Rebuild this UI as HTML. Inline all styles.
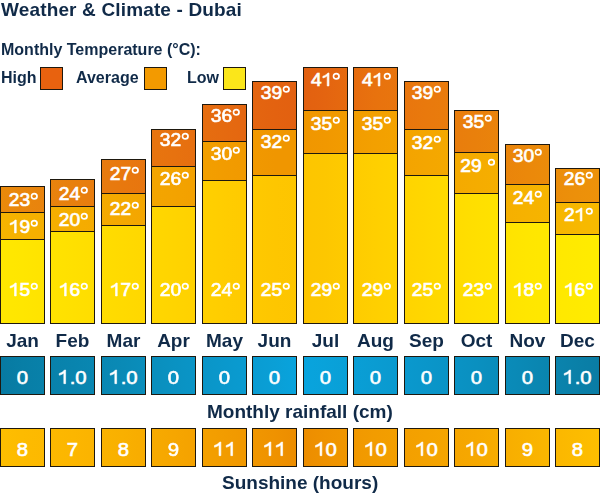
<!DOCTYPE html><html><head><meta charset="utf-8"><style>
*{margin:0;padding:0;box-sizing:border-box}
html,body{width:600px;height:501px;background:#fff;overflow:hidden;position:relative}
body{filter:blur(0.3px)}
body{font-family:"Liberation Sans",sans-serif;font-weight:bold;color:#102a48}
.t{position:absolute;white-space:nowrap;line-height:1;will-change:transform}
.b{position:absolute;border:1px solid #1e180e;background-size:600px 100%}
.hi{background-image:linear-gradient(90deg,#ea8a0a 0px,#e9860c 22px,#e8800e 73px,#e8780e 123px,#e7720f 174px,#e56a10 224px,#e36210 275px,#e26010 300px,#e46410 325px,#e8720e 375px,#e9790d 426px,#e9800c 476px,#eb880a 527px,#ec900a 577px,#ed920a 600px)}
.av{background-image:linear-gradient(90deg,#f6b400 0px,#f5b100 22px,#f5ad00 73px,#f4a800 123px,#f3a300 174px,#f29c00 224px,#f09600 275px,#f09600 300px,#f19800 325px,#f3a000 375px,#f4a600 426px,#f5ac00 476px,#f6b200 527px,#f7b800 577px,#f7ba00 600px)}
.lo{background-image:linear-gradient(90deg,#ffe800 0px,#ffe600 22px,#ffe000 73px,#ffda00 123px,#ffd400 174px,#ffcd00 224px,#fec600 275px,#fdc500 300px,#fdc700 325px,#ffcf00 375px,#ffd700 426px,#ffdf00 476px,#ffe600 527px,#ffea00 577px,#ffec00 600px)}
.rn{background-image:linear-gradient(90deg,#077aa2 0px,#087ea6 22px,#0984ae 73px,#0a8ab6 123px,#0a92c2 174px,#0a98cc 224px,#0a9fd6 275px,#08a4de 300px,#09a2da 325px,#0a9cd2 375px,#0a96ca 426px,#0a90c0 476px,#0a88b4 527px,#0a80a8 577px,#0a7ca4 600px)}
.sn{background-image:linear-gradient(90deg,#febe00 0px,#fdbb00 22px,#fcb600 73px,#f9b000 123px,#f6a600 174px,#f29c00 224px,#ef9200 275px,#ec8c00 300px,#ef9200 325px,#f29c00 375px,#f4a200 426px,#f6a800 476px,#f9b200 527px,#fcbb00 577px,#febe00 600px)}
.lab{position:absolute;width:45px;text-align:center;color:#fff;font-size:18px;line-height:1;white-space:nowrap;font-weight:normal;-webkit-text-stroke:0.65px #fff;transform:scaleX(1.07)}
.dg{display:inline-block;width:7px;height:9px;vertical-align:top;margin-left:0.3px;margin-top:1px}
.box{position:absolute;width:45px;border:1px solid #1e180e;background-size:600px 100%}
.m{position:absolute;width:45px;text-align:center;font-size:19px;line-height:1;will-change:transform}
</style></head><body>
<div class="t" style="left:1px;top:0.35px;font-size:19px;letter-spacing:0.15px">Weather &amp; Climate - Dubai</div>
<div class="t" style="left:1px;top:41.78px;font-size:16px">Monthly Temperature (°C):</div>
<div class="t" style="left:1px;top:70.18px;font-size:16px">High</div>
<div class="t" style="left:76px;top:70.18px;font-size:16px">Average</div>
<div class="t" style="left:187px;top:70.18px;font-size:16px">Low</div>
<div class="b" style="left:40px;top:67px;width:23px;height:23px;background:#e8620f"></div>
<div class="b" style="left:144px;top:67px;width:23px;height:23px;background:#f39a00"></div>
<div class="b" style="left:223px;top:67px;width:23px;height:23px;background:#fbe61a"></div>
<div class="b hi" style="left:0px;top:186px;width:45px;height:27px;background-position:-1px 0"></div>
<div class="b av" style="left:0px;top:212px;width:45px;height:28px;background-position:-1px 0"></div>
<div class="b lo" style="left:0px;top:239px;width:45px;height:85px;background-position:-1px 0"></div>
<div class="lab" style="left:0.60px;top:191.27px">23<svg class="dg" viewBox="0 0 7 9"><circle cx="3.5" cy="4.3" r="2.65" fill="none" stroke="#fff" stroke-width="1.7"/></svg></div>
<div class="lab" style="left:0.60px;top:218.32px"><svg width="10.01" height="12.94" viewBox="0 -1472 1139 1472" style="vertical-align:baseline;overflow:visible"><path transform="scale(1,-1)" d="M763 0H583V1147Q510 1080 390 1010T120 915V1095Q330 1180 470 1285T649 1472H763V0Z" fill="#fff" stroke="#fff" stroke-width="74"/></svg>9<svg class="dg" viewBox="0 0 7 9"><circle cx="3.5" cy="4.3" r="2.65" fill="none" stroke="#fff" stroke-width="1.7"/></svg></div>
<div class="lab" style="left:0.60px;top:280.72px"><svg width="10.01" height="12.94" viewBox="0 -1472 1139 1472" style="vertical-align:baseline;overflow:visible"><path transform="scale(1,-1)" d="M763 0H583V1147Q510 1080 390 1010T120 915V1095Q330 1180 470 1285T649 1472H763V0Z" fill="#fff" stroke="#fff" stroke-width="74"/></svg>5<svg class="dg" viewBox="0 0 7 9"><circle cx="3.5" cy="4.3" r="2.65" fill="none" stroke="#fff" stroke-width="1.7"/></svg></div>
<div class="m" style="left:0px;top:330.70px">Jan</div>
<div class="box rn" style="left:0px;top:356px;height:39px;background-position:-1px 0"></div>
<div class="lab" style="left:0px;top:367.80px;font-size:19px;-webkit-text-stroke:0.6px #fff">0</div>
<div class="box sn" style="left:0px;top:428px;height:39px;background-position:-1px 0"></div>
<div class="lab" style="left:0px;top:439.80px;font-size:19px;-webkit-text-stroke:0.6px #fff">8</div>
<div class="b hi" style="left:50px;top:179px;width:45px;height:28px;background-position:-51px 0"></div>
<div class="b av" style="left:50px;top:206px;width:45px;height:26px;background-position:-51px 0"></div>
<div class="b lo" style="left:50px;top:231px;width:45px;height:93px;background-position:-51px 0"></div>
<div class="lab" style="left:50.80px;top:185.32px">24<svg class="dg" viewBox="0 0 7 9"><circle cx="3.5" cy="4.3" r="2.65" fill="none" stroke="#fff" stroke-width="1.7"/></svg></div>
<div class="lab" style="left:50.80px;top:211.22px">20<svg class="dg" viewBox="0 0 7 9"><circle cx="3.5" cy="4.3" r="2.65" fill="none" stroke="#fff" stroke-width="1.7"/></svg></div>
<div class="lab" style="left:50.80px;top:280.72px"><svg width="10.01" height="12.94" viewBox="0 -1472 1139 1472" style="vertical-align:baseline;overflow:visible"><path transform="scale(1,-1)" d="M763 0H583V1147Q510 1080 390 1010T120 915V1095Q330 1180 470 1285T649 1472H763V0Z" fill="#fff" stroke="#fff" stroke-width="74"/></svg>6<svg class="dg" viewBox="0 0 7 9"><circle cx="3.5" cy="4.3" r="2.65" fill="none" stroke="#fff" stroke-width="1.7"/></svg></div>
<div class="m" style="left:50px;top:330.70px">Feb</div>
<div class="box rn" style="left:50px;top:356px;height:39px;background-position:-51px 0"></div>
<div class="lab" style="left:50px;top:367.80px;font-size:19px;-webkit-text-stroke:0.6px #fff"><svg width="10.57" height="13.66" viewBox="0 -1472 1139 1472" style="vertical-align:baseline;overflow:visible"><path transform="scale(1,-1)" d="M763 0H583V1147Q510 1080 390 1010T120 915V1095Q330 1180 470 1285T649 1472H763V0Z" fill="#fff" stroke="#fff" stroke-width="65"/></svg>.0</div>
<div class="box sn" style="left:50px;top:428px;height:39px;background-position:-51px 0"></div>
<div class="lab" style="left:50px;top:439.80px;font-size:19px;-webkit-text-stroke:0.6px #fff">7</div>
<div class="b hi" style="left:101px;top:159px;width:45px;height:35px;background-position:-102px 0"></div>
<div class="b av" style="left:101px;top:193px;width:45px;height:33px;background-position:-102px 0"></div>
<div class="b lo" style="left:101px;top:225px;width:45px;height:99px;background-position:-102px 0"></div>
<div class="lab" style="left:101.50px;top:165.02px">27<svg class="dg" viewBox="0 0 7 9"><circle cx="3.5" cy="4.3" r="2.65" fill="none" stroke="#fff" stroke-width="1.7"/></svg></div>
<div class="lab" style="left:101.50px;top:199.72px">22<svg class="dg" viewBox="0 0 7 9"><circle cx="3.5" cy="4.3" r="2.65" fill="none" stroke="#fff" stroke-width="1.7"/></svg></div>
<div class="lab" style="left:101.50px;top:280.72px"><svg width="10.01" height="12.94" viewBox="0 -1472 1139 1472" style="vertical-align:baseline;overflow:visible"><path transform="scale(1,-1)" d="M763 0H583V1147Q510 1080 390 1010T120 915V1095Q330 1180 470 1285T649 1472H763V0Z" fill="#fff" stroke="#fff" stroke-width="74"/></svg>7<svg class="dg" viewBox="0 0 7 9"><circle cx="3.5" cy="4.3" r="2.65" fill="none" stroke="#fff" stroke-width="1.7"/></svg></div>
<div class="m" style="left:101px;top:330.70px">Mar</div>
<div class="box rn" style="left:101px;top:356px;height:39px;background-position:-102px 0"></div>
<div class="lab" style="left:101px;top:367.80px;font-size:19px;-webkit-text-stroke:0.6px #fff"><svg width="10.57" height="13.66" viewBox="0 -1472 1139 1472" style="vertical-align:baseline;overflow:visible"><path transform="scale(1,-1)" d="M763 0H583V1147Q510 1080 390 1010T120 915V1095Q330 1180 470 1285T649 1472H763V0Z" fill="#fff" stroke="#fff" stroke-width="65"/></svg>.0</div>
<div class="box sn" style="left:101px;top:428px;height:39px;background-position:-102px 0"></div>
<div class="lab" style="left:101px;top:439.80px;font-size:19px;-webkit-text-stroke:0.6px #fff">8</div>
<div class="b hi" style="left:151px;top:129px;width:45px;height:38px;background-position:-152px 0"></div>
<div class="b av" style="left:151px;top:166px;width:45px;height:41px;background-position:-152px 0"></div>
<div class="b lo" style="left:151px;top:206px;width:45px;height:118px;background-position:-152px 0"></div>
<div class="lab" style="left:152.00px;top:131.22px">32<svg class="dg" viewBox="0 0 7 9"><circle cx="3.5" cy="4.3" r="2.65" fill="none" stroke="#fff" stroke-width="1.7"/></svg></div>
<div class="lab" style="left:152.00px;top:169.92px">26<svg class="dg" viewBox="0 0 7 9"><circle cx="3.5" cy="4.3" r="2.65" fill="none" stroke="#fff" stroke-width="1.7"/></svg></div>
<div class="lab" style="left:152.00px;top:280.72px">20<svg class="dg" viewBox="0 0 7 9"><circle cx="3.5" cy="4.3" r="2.65" fill="none" stroke="#fff" stroke-width="1.7"/></svg></div>
<div class="m" style="left:151px;top:330.70px">Apr</div>
<div class="box rn" style="left:151px;top:356px;height:39px;background-position:-152px 0"></div>
<div class="lab" style="left:151px;top:367.80px;font-size:19px;-webkit-text-stroke:0.6px #fff">0</div>
<div class="box sn" style="left:151px;top:428px;height:39px;background-position:-152px 0"></div>
<div class="lab" style="left:151px;top:439.80px;font-size:19px;-webkit-text-stroke:0.6px #fff">9</div>
<div class="b hi" style="left:202px;top:104px;width:45px;height:38px;background-position:-203px 0"></div>
<div class="b av" style="left:202px;top:141px;width:45px;height:40px;background-position:-203px 0"></div>
<div class="b lo" style="left:202px;top:180px;width:45px;height:144px;background-position:-203px 0"></div>
<div class="lab" style="left:202.70px;top:106.57px">36<svg class="dg" viewBox="0 0 7 9"><circle cx="3.5" cy="4.3" r="2.65" fill="none" stroke="#fff" stroke-width="1.7"/></svg></div>
<div class="lab" style="left:202.70px;top:145.42px">30<svg class="dg" viewBox="0 0 7 9"><circle cx="3.5" cy="4.3" r="2.65" fill="none" stroke="#fff" stroke-width="1.7"/></svg></div>
<div class="lab" style="left:202.70px;top:280.72px">24<svg class="dg" viewBox="0 0 7 9"><circle cx="3.5" cy="4.3" r="2.65" fill="none" stroke="#fff" stroke-width="1.7"/></svg></div>
<div class="m" style="left:202px;top:330.70px">May</div>
<div class="box rn" style="left:202px;top:356px;height:39px;background-position:-203px 0"></div>
<div class="lab" style="left:202px;top:367.80px;font-size:19px;-webkit-text-stroke:0.6px #fff">0</div>
<div class="box sn" style="left:202px;top:428px;height:39px;background-position:-203px 0"></div>
<div class="lab" style="left:202px;top:439.80px;font-size:19px;-webkit-text-stroke:0.6px #fff"><svg width="10.57" height="13.66" viewBox="0 -1472 1139 1472" style="vertical-align:baseline;overflow:visible"><path transform="scale(1,-1)" d="M763 0H583V1147Q510 1080 390 1010T120 915V1095Q330 1180 470 1285T649 1472H763V0Z" fill="#fff" stroke="#fff" stroke-width="65"/></svg><svg width="10.57" height="13.66" viewBox="0 -1472 1139 1472" style="vertical-align:baseline;overflow:visible"><path transform="scale(1,-1)" d="M763 0H583V1147Q510 1080 390 1010T120 915V1095Q330 1180 470 1285T649 1472H763V0Z" fill="#fff" stroke="#fff" stroke-width="65"/></svg></div>
<div class="b hi" style="left:252px;top:81px;width:45px;height:49px;background-position:-253px 0"></div>
<div class="b av" style="left:252px;top:129px;width:45px;height:47px;background-position:-253px 0"></div>
<div class="b lo" style="left:252px;top:175px;width:45px;height:149px;background-position:-253px 0"></div>
<div class="lab" style="left:252.80px;top:83.92px">39<svg class="dg" viewBox="0 0 7 9"><circle cx="3.5" cy="4.3" r="2.65" fill="none" stroke="#fff" stroke-width="1.7"/></svg></div>
<div class="lab" style="left:252.80px;top:133.02px">32<svg class="dg" viewBox="0 0 7 9"><circle cx="3.5" cy="4.3" r="2.65" fill="none" stroke="#fff" stroke-width="1.7"/></svg></div>
<div class="lab" style="left:252.80px;top:280.72px">25<svg class="dg" viewBox="0 0 7 9"><circle cx="3.5" cy="4.3" r="2.65" fill="none" stroke="#fff" stroke-width="1.7"/></svg></div>
<div class="m" style="left:252px;top:330.70px">Jun</div>
<div class="box rn" style="left:252px;top:356px;height:39px;background-position:-253px 0"></div>
<div class="lab" style="left:252px;top:367.80px;font-size:19px;-webkit-text-stroke:0.6px #fff">0</div>
<div class="box sn" style="left:252px;top:428px;height:39px;background-position:-253px 0"></div>
<div class="lab" style="left:252px;top:439.80px;font-size:19px;-webkit-text-stroke:0.6px #fff"><svg width="10.57" height="13.66" viewBox="0 -1472 1139 1472" style="vertical-align:baseline;overflow:visible"><path transform="scale(1,-1)" d="M763 0H583V1147Q510 1080 390 1010T120 915V1095Q330 1180 470 1285T649 1472H763V0Z" fill="#fff" stroke="#fff" stroke-width="65"/></svg><svg width="10.57" height="13.66" viewBox="0 -1472 1139 1472" style="vertical-align:baseline;overflow:visible"><path transform="scale(1,-1)" d="M763 0H583V1147Q510 1080 390 1010T120 915V1095Q330 1180 470 1285T649 1472H763V0Z" fill="#fff" stroke="#fff" stroke-width="65"/></svg></div>
<div class="b hi" style="left:303px;top:67px;width:45px;height:44px;background-position:-304px 0"></div>
<div class="b av" style="left:303px;top:110px;width:45px;height:44px;background-position:-304px 0"></div>
<div class="b lo" style="left:303px;top:153px;width:45px;height:171px;background-position:-304px 0"></div>
<div class="lab" style="left:303.20px;top:70.62px">4<svg width="10.01" height="12.94" viewBox="0 -1472 1139 1472" style="vertical-align:baseline;overflow:visible"><path transform="scale(1,-1)" d="M763 0H583V1147Q510 1080 390 1010T120 915V1095Q330 1180 470 1285T649 1472H763V0Z" fill="#fff" stroke="#fff" stroke-width="74"/></svg><svg class="dg" viewBox="0 0 7 9"><circle cx="3.5" cy="4.3" r="2.65" fill="none" stroke="#fff" stroke-width="1.7"/></svg></div>
<div class="lab" style="left:303.20px;top:114.72px">35<svg class="dg" viewBox="0 0 7 9"><circle cx="3.5" cy="4.3" r="2.65" fill="none" stroke="#fff" stroke-width="1.7"/></svg></div>
<div class="lab" style="left:303.20px;top:280.72px">29<svg class="dg" viewBox="0 0 7 9"><circle cx="3.5" cy="4.3" r="2.65" fill="none" stroke="#fff" stroke-width="1.7"/></svg></div>
<div class="m" style="left:303px;top:330.70px">Jul</div>
<div class="box rn" style="left:303px;top:356px;height:39px;background-position:-304px 0"></div>
<div class="lab" style="left:303px;top:367.80px;font-size:19px;-webkit-text-stroke:0.6px #fff">0</div>
<div class="box sn" style="left:303px;top:428px;height:39px;background-position:-304px 0"></div>
<div class="lab" style="left:303px;top:439.80px;font-size:19px;-webkit-text-stroke:0.6px #fff"><svg width="10.57" height="13.66" viewBox="0 -1472 1139 1472" style="vertical-align:baseline;overflow:visible"><path transform="scale(1,-1)" d="M763 0H583V1147Q510 1080 390 1010T120 915V1095Q330 1180 470 1285T649 1472H763V0Z" fill="#fff" stroke="#fff" stroke-width="65"/></svg>0</div>
<div class="b hi" style="left:353px;top:67px;width:45px;height:44px;background-position:-354px 0"></div>
<div class="b av" style="left:353px;top:110px;width:45px;height:44px;background-position:-354px 0"></div>
<div class="b lo" style="left:353px;top:153px;width:45px;height:171px;background-position:-354px 0"></div>
<div class="lab" style="left:353.70px;top:70.62px">4<svg width="10.01" height="12.94" viewBox="0 -1472 1139 1472" style="vertical-align:baseline;overflow:visible"><path transform="scale(1,-1)" d="M763 0H583V1147Q510 1080 390 1010T120 915V1095Q330 1180 470 1285T649 1472H763V0Z" fill="#fff" stroke="#fff" stroke-width="74"/></svg><svg class="dg" viewBox="0 0 7 9"><circle cx="3.5" cy="4.3" r="2.65" fill="none" stroke="#fff" stroke-width="1.7"/></svg></div>
<div class="lab" style="left:353.70px;top:114.72px">35<svg class="dg" viewBox="0 0 7 9"><circle cx="3.5" cy="4.3" r="2.65" fill="none" stroke="#fff" stroke-width="1.7"/></svg></div>
<div class="lab" style="left:353.70px;top:280.72px">29<svg class="dg" viewBox="0 0 7 9"><circle cx="3.5" cy="4.3" r="2.65" fill="none" stroke="#fff" stroke-width="1.7"/></svg></div>
<div class="m" style="left:353px;top:330.70px">Aug</div>
<div class="box rn" style="left:353px;top:356px;height:39px;background-position:-354px 0"></div>
<div class="lab" style="left:353px;top:367.80px;font-size:19px;-webkit-text-stroke:0.6px #fff">0</div>
<div class="box sn" style="left:353px;top:428px;height:39px;background-position:-354px 0"></div>
<div class="lab" style="left:353px;top:439.80px;font-size:19px;-webkit-text-stroke:0.6px #fff"><svg width="10.57" height="13.66" viewBox="0 -1472 1139 1472" style="vertical-align:baseline;overflow:visible"><path transform="scale(1,-1)" d="M763 0H583V1147Q510 1080 390 1010T120 915V1095Q330 1180 470 1285T649 1472H763V0Z" fill="#fff" stroke="#fff" stroke-width="65"/></svg>0</div>
<div class="b hi" style="left:404px;top:81px;width:45px;height:49px;background-position:-405px 0"></div>
<div class="b av" style="left:404px;top:129px;width:45px;height:47px;background-position:-405px 0"></div>
<div class="b lo" style="left:404px;top:175px;width:45px;height:149px;background-position:-405px 0"></div>
<div class="lab" style="left:404.40px;top:83.92px">39<svg class="dg" viewBox="0 0 7 9"><circle cx="3.5" cy="4.3" r="2.65" fill="none" stroke="#fff" stroke-width="1.7"/></svg></div>
<div class="lab" style="left:404.40px;top:133.52px">32<svg class="dg" viewBox="0 0 7 9"><circle cx="3.5" cy="4.3" r="2.65" fill="none" stroke="#fff" stroke-width="1.7"/></svg></div>
<div class="lab" style="left:404.40px;top:280.72px">25<svg class="dg" viewBox="0 0 7 9"><circle cx="3.5" cy="4.3" r="2.65" fill="none" stroke="#fff" stroke-width="1.7"/></svg></div>
<div class="m" style="left:404px;top:330.70px">Sep</div>
<div class="box rn" style="left:404px;top:356px;height:39px;background-position:-405px 0"></div>
<div class="lab" style="left:404px;top:367.80px;font-size:19px;-webkit-text-stroke:0.6px #fff">0</div>
<div class="box sn" style="left:404px;top:428px;height:39px;background-position:-405px 0"></div>
<div class="lab" style="left:404px;top:439.80px;font-size:19px;-webkit-text-stroke:0.6px #fff"><svg width="10.57" height="13.66" viewBox="0 -1472 1139 1472" style="vertical-align:baseline;overflow:visible"><path transform="scale(1,-1)" d="M763 0H583V1147Q510 1080 390 1010T120 915V1095Q330 1180 470 1285T649 1472H763V0Z" fill="#fff" stroke="#fff" stroke-width="65"/></svg>0</div>
<div class="b hi" style="left:454px;top:110px;width:45px;height:43px;background-position:-455px 0"></div>
<div class="b av" style="left:454px;top:152px;width:45px;height:42px;background-position:-455px 0"></div>
<div class="b lo" style="left:454px;top:193px;width:45px;height:131px;background-position:-455px 0"></div>
<div class="lab" style="left:455.10px;top:113.32px">35<svg class="dg" viewBox="0 0 7 9"><circle cx="3.5" cy="4.3" r="2.65" fill="none" stroke="#fff" stroke-width="1.7"/></svg></div>
<div class="lab" style="left:455.10px;top:157.32px">29 <svg class="dg" viewBox="0 0 7 9"><circle cx="3.5" cy="4.3" r="2.65" fill="none" stroke="#fff" stroke-width="1.7"/></svg></div>
<div class="lab" style="left:455.10px;top:280.72px">23<svg class="dg" viewBox="0 0 7 9"><circle cx="3.5" cy="4.3" r="2.65" fill="none" stroke="#fff" stroke-width="1.7"/></svg></div>
<div class="m" style="left:454px;top:330.70px">Oct</div>
<div class="box rn" style="left:454px;top:356px;height:39px;background-position:-455px 0"></div>
<div class="lab" style="left:454px;top:367.80px;font-size:19px;-webkit-text-stroke:0.6px #fff">0</div>
<div class="box sn" style="left:454px;top:428px;height:39px;background-position:-455px 0"></div>
<div class="lab" style="left:454px;top:439.80px;font-size:19px;-webkit-text-stroke:0.6px #fff"><svg width="10.57" height="13.66" viewBox="0 -1472 1139 1472" style="vertical-align:baseline;overflow:visible"><path transform="scale(1,-1)" d="M763 0H583V1147Q510 1080 390 1010T120 915V1095Q330 1180 470 1285T649 1472H763V0Z" fill="#fff" stroke="#fff" stroke-width="65"/></svg>0</div>
<div class="b hi" style="left:505px;top:144px;width:45px;height:41px;background-position:-506px 0"></div>
<div class="b av" style="left:505px;top:184px;width:45px;height:39px;background-position:-506px 0"></div>
<div class="b lo" style="left:505px;top:222px;width:45px;height:102px;background-position:-506px 0"></div>
<div class="lab" style="left:504.80px;top:146.82px">30<svg class="dg" viewBox="0 0 7 9"><circle cx="3.5" cy="4.3" r="2.65" fill="none" stroke="#fff" stroke-width="1.7"/></svg></div>
<div class="lab" style="left:504.80px;top:188.72px">24<svg class="dg" viewBox="0 0 7 9"><circle cx="3.5" cy="4.3" r="2.65" fill="none" stroke="#fff" stroke-width="1.7"/></svg></div>
<div class="lab" style="left:504.80px;top:280.72px"><svg width="10.01" height="12.94" viewBox="0 -1472 1139 1472" style="vertical-align:baseline;overflow:visible"><path transform="scale(1,-1)" d="M763 0H583V1147Q510 1080 390 1010T120 915V1095Q330 1180 470 1285T649 1472H763V0Z" fill="#fff" stroke="#fff" stroke-width="74"/></svg>8<svg class="dg" viewBox="0 0 7 9"><circle cx="3.5" cy="4.3" r="2.65" fill="none" stroke="#fff" stroke-width="1.7"/></svg></div>
<div class="m" style="left:505px;top:330.70px">Nov</div>
<div class="box rn" style="left:505px;top:356px;height:39px;background-position:-506px 0"></div>
<div class="lab" style="left:505px;top:367.80px;font-size:19px;-webkit-text-stroke:0.6px #fff">0</div>
<div class="box sn" style="left:505px;top:428px;height:39px;background-position:-506px 0"></div>
<div class="lab" style="left:505px;top:439.80px;font-size:19px;-webkit-text-stroke:0.6px #fff">9</div>
<div class="b hi" style="left:555px;top:168px;width:45px;height:35px;background-position:-556px 0"></div>
<div class="b av" style="left:555px;top:202px;width:45px;height:33px;background-position:-556px 0"></div>
<div class="b lo" style="left:555px;top:234px;width:45px;height:90px;background-position:-556px 0"></div>
<div class="lab" style="left:555.60px;top:170.32px">26<svg class="dg" viewBox="0 0 7 9"><circle cx="3.5" cy="4.3" r="2.65" fill="none" stroke="#fff" stroke-width="1.7"/></svg></div>
<div class="lab" style="left:555.60px;top:206.22px">2<svg width="10.01" height="12.94" viewBox="0 -1472 1139 1472" style="vertical-align:baseline;overflow:visible"><path transform="scale(1,-1)" d="M763 0H583V1147Q510 1080 390 1010T120 915V1095Q330 1180 470 1285T649 1472H763V0Z" fill="#fff" stroke="#fff" stroke-width="74"/></svg><svg class="dg" viewBox="0 0 7 9"><circle cx="3.5" cy="4.3" r="2.65" fill="none" stroke="#fff" stroke-width="1.7"/></svg></div>
<div class="lab" style="left:555.60px;top:280.72px"><svg width="10.01" height="12.94" viewBox="0 -1472 1139 1472" style="vertical-align:baseline;overflow:visible"><path transform="scale(1,-1)" d="M763 0H583V1147Q510 1080 390 1010T120 915V1095Q330 1180 470 1285T649 1472H763V0Z" fill="#fff" stroke="#fff" stroke-width="74"/></svg>6<svg class="dg" viewBox="0 0 7 9"><circle cx="3.5" cy="4.3" r="2.65" fill="none" stroke="#fff" stroke-width="1.7"/></svg></div>
<div class="m" style="left:555px;top:330.70px">Dec</div>
<div class="box rn" style="left:555px;top:356px;height:39px;background-position:-556px 0"></div>
<div class="lab" style="left:555px;top:367.80px;font-size:19px;-webkit-text-stroke:0.6px #fff"><svg width="10.57" height="13.66" viewBox="0 -1472 1139 1472" style="vertical-align:baseline;overflow:visible"><path transform="scale(1,-1)" d="M763 0H583V1147Q510 1080 390 1010T120 915V1095Q330 1180 470 1285T649 1472H763V0Z" fill="#fff" stroke="#fff" stroke-width="65"/></svg>.0</div>
<div class="box sn" style="left:555px;top:428px;height:39px;background-position:-556px 0"></div>
<div class="lab" style="left:555px;top:439.80px;font-size:19px;-webkit-text-stroke:0.6px #fff">8</div>
<div class="t" style="left:207px;top:401.85px;font-size:19px">Monthly rainfall (cm)</div>
<div class="t" style="left:222px;top:472.70px;font-size:19px">Sunshine (hours)</div>
</body></html>
